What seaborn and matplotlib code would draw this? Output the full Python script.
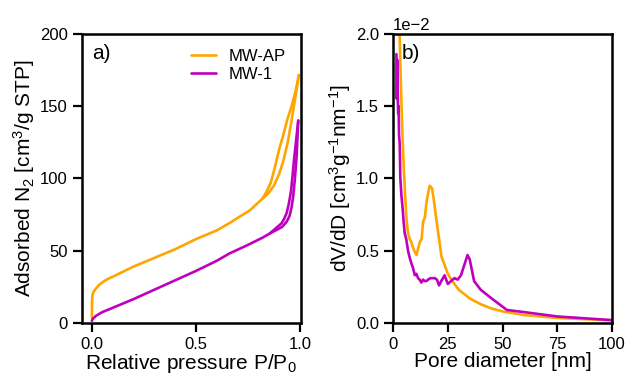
import numpy as np
import pandas as pd
import matplotlib
matplotlib.use("Agg")
import matplotlib.pyplot as plt
import seaborn as sns

# ---------------- data ----------------
# Panel a) N2 isotherms (relative pressure, adsorbed volume cm3/g STP)
ap_ads_p = [0, 0.0003, 0.001, 0.003, 0.008, 0.02, 0.04, 0.07, 0.1, 0.15, 0.2, 0.3, 0.4,
            0.5, 0.6, 0.66, 0.76, 0.82, 0.85, 0.875, 0.9, 0.92, 0.94, 0.96, 0.98, 0.995]
ap_ads_q = [3, 10, 16, 19.5, 21.5, 24, 27, 30, 32, 35.5, 39, 45, 51,
            58, 64, 69, 78, 86, 90, 95, 103, 112, 124, 140, 158, 171.5]
ap_des_p = [0.995, 0.98, 0.96, 0.94, 0.92, 0.9, 0.88, 0.86, 0.84, 0.82]
ap_des_q = [171.5, 161, 150, 141, 130, 120, 108, 97, 91, 86]

m1_ads_p = [0, 0.005, 0.02, 0.05, 0.1, 0.2, 0.3, 0.4, 0.5, 0.6, 0.66, 0.75, 0.82,
            0.856, 0.89, 0.915, 0.936, 0.95, 0.96, 0.968, 0.976, 0.984, 0.992]
m1_ads_q = [1.5, 3, 5, 7.5, 10.5, 16.5, 23, 29.5, 36, 43, 48, 54, 59,
            62, 64.5, 66.5, 70, 74, 80, 88, 100, 115, 140]
m1_des_p = [0.992, 0.98, 0.971, 0.964, 0.957, 0.946, 0.936, 0.924, 0.912, 0.88, 0.856]
m1_des_q = [140, 124, 112, 101, 91, 82, 76, 72, 69, 65, 62]

# Panel b) pore size distribution (nm, dV/dD in units of 1e-2 cm3 g-1 nm-1)
ap_d = [2.8, 3.2, 3.8, 4.3, 4.9, 5.5, 6.1, 6.8, 7.6, 8.3, 9.1, 10.0, 10.7, 11.5, 12.2,
        13.0, 13.7, 14.5, 15.2, 16.0, 16.7, 17.8, 18.6, 19.8, 21.0, 22.1, 25.0, 27.0,
        30.0, 35.0, 40.0, 45.0, 50.0, 60.0, 75.0, 100.0]
ap_v = [2.1, 1.85, 1.52, 1.28, 1.06, 0.88, 0.72, 0.62, 0.58, 0.56, 0.52, 0.49, 0.47, 0.52, 0.56,
        0.58, 0.70, 0.73, 0.83, 0.90, 0.95, 0.93, 0.85, 0.71, 0.58, 0.46, 0.34, 0.29,
        0.23, 0.17, 0.13, 0.10, 0.08, 0.055, 0.035, 0.018]
m1_d = [1.5, 1.7, 1.9, 2.1, 2.3, 2.5, 2.7, 3.0, 3.3, 3.8, 4.3, 4.8, 5.3, 6.0, 6.8, 7.6,
        8.4, 9.1, 9.9, 10.6, 11.4, 12.1, 12.9, 13.7, 14.4, 15.2, 16.0, 17.0, 18.0, 19.0,
        20.0, 21.0, 22.0, 23.5, 25.0, 26.5, 28.0, 29.5, 31.0, 32.5, 34.0, 35.0, 37.0,
        40.0, 45.0, 52.0, 60.0, 75.0, 100.0]
m1_v = [1.86, 1.55, 1.82, 1.58, 1.45, 1.50, 1.30, 1.24, 1.00, 0.88, 0.80, 0.70, 0.62, 0.58,
        0.50, 0.45, 0.41, 0.38, 0.33, 0.34, 0.31, 0.30, 0.28, 0.30, 0.29, 0.29, 0.30, 0.31,
        0.31, 0.31, 0.30, 0.26, 0.29, 0.33, 0.27, 0.29, 0.31, 0.30, 0.33, 0.40, 0.47, 0.44,
        0.29, 0.23, 0.17, 0.09, 0.075, 0.045, 0.02]

labels = ["MW-AP", "MW-1"]
colors = {"MW-AP": "#FFA500", "MW-1": "#BF00BF"}

# ---------------- tables ----------------
iso = pd.concat([
    pd.DataFrame({"p": ap_ads_p, "q": ap_ads_q, "sample": "MW-AP", "branch": "ads"}),
    pd.DataFrame({"p": ap_des_p, "q": ap_des_q, "sample": "MW-AP", "branch": "des"}),
    pd.DataFrame({"p": m1_ads_p, "q": m1_ads_q, "sample": "MW-1", "branch": "ads"}),
    pd.DataFrame({"p": m1_des_p, "q": m1_des_q, "sample": "MW-1", "branch": "des"}),
], ignore_index=True)

psd = pd.concat([
    pd.DataFrame({"d": ap_d, "v": np.array(ap_v) * 1e-2, "sample": "MW-AP"}),
    pd.DataFrame({"d": m1_d, "v": np.array(m1_v) * 1e-2, "sample": "MW-1"}),
], ignore_index=True)

# ---------------- style ----------------
sns.set_theme(style="ticks")
plt.rcParams["font.family"] = ["Liberation Sans", "DejaVu Sans"]
plt.rcParams["mathtext.default"] = "regular"
plt.rcParams["axes.linewidth"] = 1.8
plt.rcParams["xtick.major.width"] = 1.6
plt.rcParams["ytick.major.width"] = 1.6
plt.rcParams["xtick.major.size"] = 6.5
plt.rcParams["ytick.major.size"] = 6.5
for k in ["xtick.color", "ytick.color", "axes.edgecolor", "text.color",
          "axes.labelcolor", "xtick.labelcolor", "ytick.labelcolor"]:
    plt.rcParams[k] = "black"

fig = plt.figure(figsize=(6.27, 3.76), dpi=100)
ax1 = fig.add_axes([0.130, 0.141, 0.350, 0.769])
ax2 = fig.add_axes([0.627, 0.141, 0.349, 0.769])

LW = 1.9
TICK_FS = 12
LAB_FS = 15

sns.lineplot(data=iso, x="p", y="q", hue="sample", units="branch", estimator=None,
             sort=False, palette=colors, hue_order=labels, lw=LW, ax=ax1)
sns.lineplot(data=psd, x="d", y="v", hue="sample", estimator=None, sort=False,
             palette=colors, hue_order=labels, lw=LW, ax=ax2, legend=False)

ax1.set_xlim(-0.05, 1.005)
ax1.set_ylim(0, 200)
ax1.set_xticks([0, 0.5, 1.0])
ax1.set_xticklabels(["0.0", "0.5", "1.0"])
ax1.set_yticks([0, 50, 100, 150, 200])
ax1.set_xlabel("Relative pressure P/P$_0$", fontsize=LAB_FS, labelpad=0)
ax1.set_ylabel("Adsorbed N$_2$ [cm$^3$/g STP]", fontsize=LAB_FS, labelpad=2)
ax1.tick_params(labelsize=TICK_FS)
ax1.text(0.05, 0.965, "a)", transform=ax1.transAxes, fontsize=LAB_FS, va="top", ha="left")
leg = ax1.legend(loc="upper right", frameon=False, fontsize=TICK_FS, handlelength=1.5,
                 borderaxespad=0.5, bbox_to_anchor=(1.0, 1.0), labelspacing=0.2)
for h in leg.get_lines():
    h.set_linewidth(LW)

ax2.set_xlim(0, 100)
ax2.set_ylim(0, 0.02)
ax2.set_xticks([0, 25, 50, 75, 100])
ax2.set_yticks([0, 0.005, 0.01, 0.015, 0.02])
ax2.ticklabel_format(axis="y", style="sci", scilimits=(-2, -2))
ax2.yaxis.get_offset_text().set_fontsize(TICK_FS)
ax2.set_xlabel("Pore diameter [nm]", fontsize=LAB_FS, labelpad=0)
ax2.set_ylabel("dV/dD [cm$^3$g$^{-1}$nm$^{-1}$]", fontsize=LAB_FS, labelpad=2)
ax2.tick_params(labelsize=TICK_FS)
ax2.text(0.04, 0.965, "b)", transform=ax2.transAxes, fontsize=LAB_FS, va="top", ha="left")

fig.savefig("out.png", dpi=100)
